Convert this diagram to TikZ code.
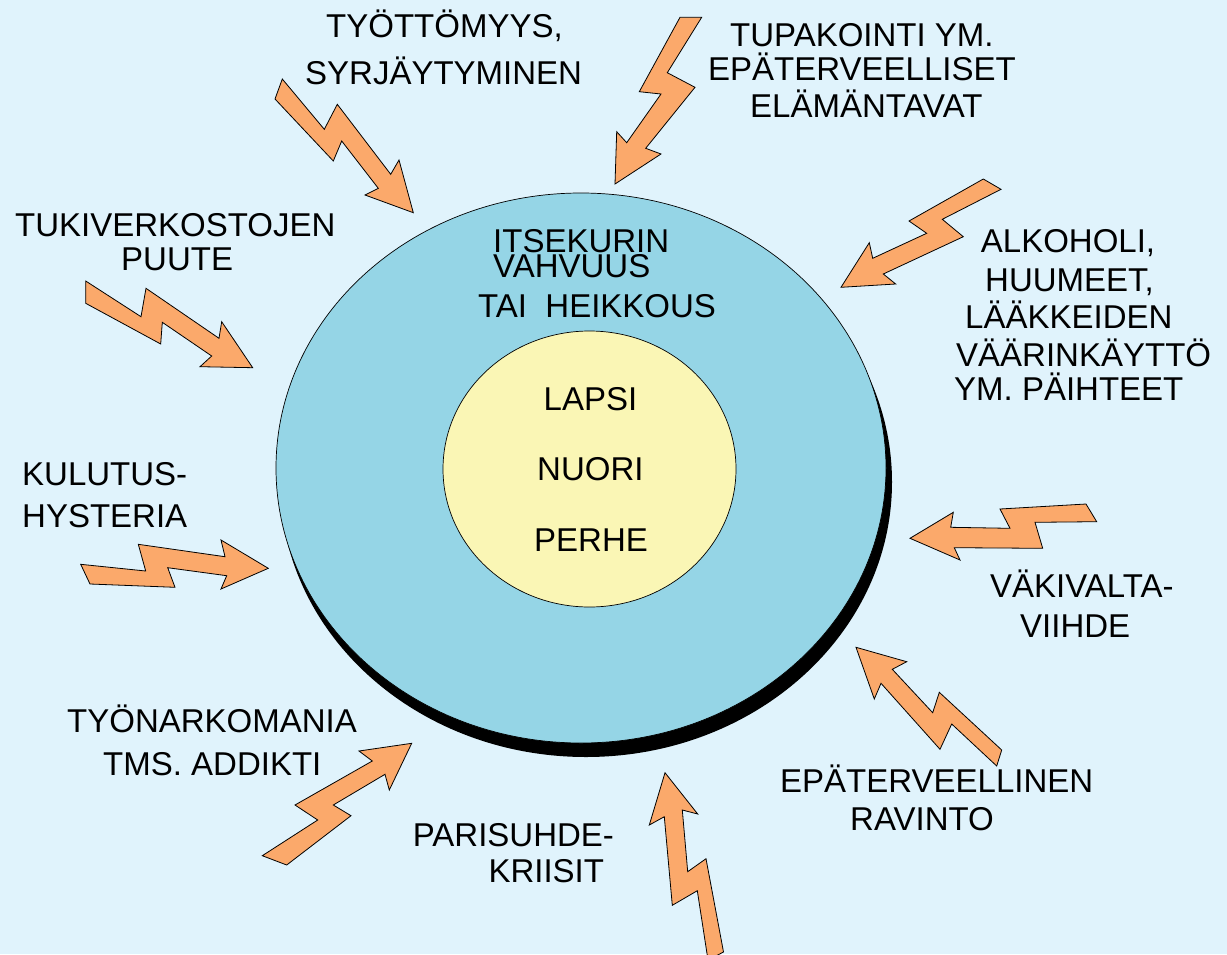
\documentclass[tikz,border=0pt]{standalone}
\usepackage{fontspec}
\setmainfont{Liberation Sans}
\definecolor{skybg}{HTML}{E0F3FC}
\definecolor{ringblue}{HTML}{95D5E6}
\definecolor{coreyellow}{HTML}{FAF6B5}
\definecolor{boltorange}{HTML}{FBA96B}
\begin{document}
\begin{tikzpicture}[x=1pt,y=-1pt,
  lbl/.style={anchor=base west, inner sep=0pt, font=\fontsize{33}{40}\selectfont},
  bolt/.style={fill=boltorange, draw=black, line width=0.8pt, line join=miter},
  ring/.style={draw=black, line width=0.7pt}]
\useasboundingbox (0,0) rectangle (1227,954);
\fill[skybg] (0,0) rectangle (1227,954);
\clip (0,0) rectangle (1227,954);

% outer ring with its drop shadow, and the inner core
\fill[black] (586,482) ellipse [x radius=306, y radius=275];
\draw[ring, fill=ringblue] (581,468) ellipse [x radius=305, y radius=275];
\draw[ring, fill=coreyellow] (589.5,469) ellipse [x radius=146.5, y radius=138];

% lightning bolts pointing at the ring
\draw[bolt] (282.3,79) -- (324.3,129.3) -- (337.3,104.3) -- (390.7,174.3) -- (399,160) -- (413.3,212.7) -- (365,195) -- (378.3,188.3) -- (341.7,141) -- (333.3,161) -- (275,99) -- cycle;
\draw[bolt] (680,17.3) -- (701.7,17.3) -- (667.3,72.7) -- (695,87.3) -- (645.7,148.3) -- (661,154) -- (615,184) -- (616.7,131.7) -- (626.7,142.7) -- (661,94) -- (639.3,91.7) -- cycle;
\draw[bolt] (85.7,281) -- (141,316.7) -- (146,288.3) -- (219,338.3) -- (221.7,321.7) -- (252.7,367.7) -- (200,366.7) -- (211.7,356) -- (162.3,322.3) -- (160.7,344) -- (85.7,303.3) -- cycle;
\draw[bolt] (983.3,179) -- (1001,189.3) -- (942.3,219.3) -- (963.3,236.7) -- (883.3,274) -- (895.7,284) -- (841,287.3) -- (869.3,242.7) -- (872.7,258.3) -- (926.7,233.3) -- (909,221) -- cycle;
\draw[bolt] (80.7,564.3) -- (145.7,571) -- (138.3,544.3) -- (225,556.7) -- (221,540) -- (268.3,568.3) -- (221,589) -- (226.7,575.7) -- (167.7,567.7) -- (175,587.3) -- (90,584) -- cycle;
\draw[bolt] (1086,504) -- (1096.7,521.7) -- (1035,522.3) -- (1042.7,548.3) -- (954.3,547.7) -- (960,560) -- (910,538.3) -- (953.3,512.3) -- (950.7,527.3) -- (1010,528.3) -- (1000,509) -- cycle;
\draw[bolt] (856,647.3) -- (906.7,661.7) -- (892.3,669.3) -- (932.7,712.7) -- (939.3,692.3) -- (1001.7,750) -- (996.7,766) -- (951.7,724) -- (940,749.3) -- (881,683.3) -- (874.3,699) -- cycle;
\draw[bolt] (411.7,743.3) -- (389.3,790) -- (385,774.3) -- (333.3,805) -- (351,815.7) -- (286.7,865) -- (262.3,855.7) -- (317.7,820) -- (295,805) -- (372.3,761) -- (359,751) -- cycle;
\draw[bolt] (665,772.7) -- (697.7,814) -- (682.3,810) -- (687.7,871.7) -- (706,858.7) -- (723.5,952) -- (708,960) -- (697.3,890.7) -- (672.3,905.3) -- (664.3,816.7) -- (649.3,825) -- cycle;

% labels
\node[lbl] (tyo1) at (326,37) {TYÖTTÖMYYS,};
\node[lbl] (tyo2) at (305,84) {SYRJÄYTYMINEN};
\node[lbl] (tup1) at (730,46) {TUPAKOINTI YM.};
\node[lbl] (tup2) at (708,80) {EPÄTERVEELLISET};
\node[lbl] (tup3) at (750,117) {ELÄMÄNTAVAT};
\node[lbl] (tuk1) at (15,236) {TUKIVERKOSTOJEN};
\node[lbl] (tuk2) at (121,270) {PUUTE};
\node[lbl] (its1) at (493,252) {ITSEKURIN};
\node[lbl] (its2) at (493,277.5) {VAHVUUS};
\node[lbl] (its3) at (478,317) {TAI\ \ HEIKKOUS};
\node[lbl] (alk1) at (980.7,252.3) {ALKOHOLI,};
\node[lbl] (alk2) at (985,291.7) {HUUMEET,};
\node[lbl] (alk3) at (965,328.3) {LÄÄKKEIDEN};
\node[lbl] (alk4) at (956,366.7) {VÄÄRINKÄYTTÖ};
\node[lbl] (alk5) at (954,400) {YM. PÄIHTEET};
\node[lbl] (core1) at (543.5,410) {LAPSI};
\node[lbl] (core2) at (537,480) {NUORI};
\node[lbl] (core3) at (534,551) {PERHE};
\node[lbl] (kul1) at (22,485) {KULUTUS-};
\node[lbl] (kul2) at (22,527) {HYSTERIA};
\node[lbl] (vak1) at (990,597) {VÄKIVALTA-};
\node[lbl] (vak2) at (1020,637) {VIIHDE};
\node[lbl] (tna1) at (67,732) {TYÖNARKOMANIA};
\node[lbl] (tna2) at (103,775) {TMS. ADDIKTI};
\node[lbl] (rav1) at (780,792) {EPÄTERVEELLINEN};
\node[lbl] (rav2) at (850,830) {RAVINTO};
\node[lbl] (par1) at (412.7,846.7) {PARISUHDE-};
\node[lbl] (par2) at (488.3,882.7) {KRIISIT};
\end{tikzpicture}
\end{document}
